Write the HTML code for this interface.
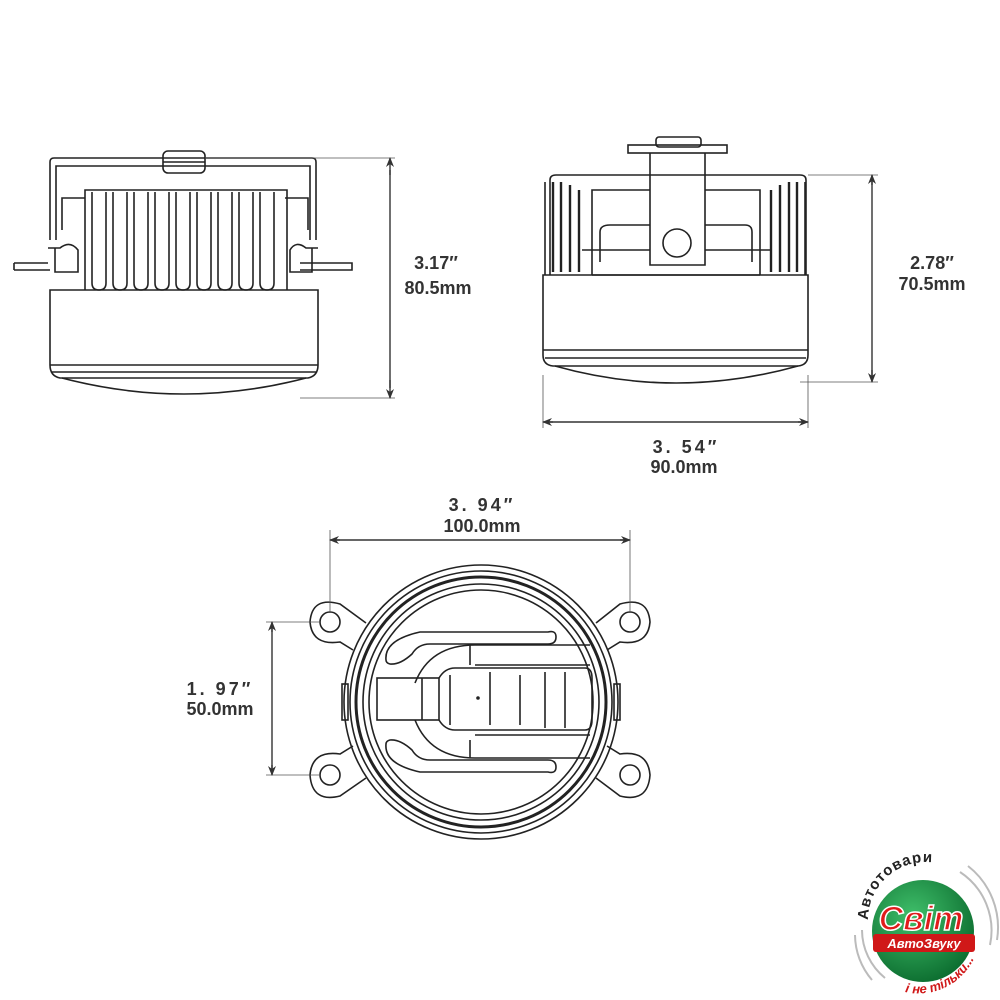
<!DOCTYPE html>
<html><head><meta charset="utf-8"><style>
body{margin:0;background:#fff}
svg{display:block}
text{font-family:"Liberation Sans",sans-serif;font-weight:bold;fill:#333}
</style></head><body>
<svg width="1000" height="1000" viewBox="0 0 1000 1000" xmlns="http://www.w3.org/2000/svg">
<defs>
<marker id="a" markerWidth="10" markerHeight="10" refX="9" refY="5" orient="auto" markerUnits="userSpaceOnUse"><path d="M0,1 L10,5 L0,9 L3,5z" fill="#333"/></marker>
<radialGradient id="g" cx="0.4" cy="0.35" r="0.7"><stop offset="0" stop-color="#3fbf6a"/><stop offset="1" stop-color="#0b6b2e"/></radialGradient>
<path id="tp" d="M868,920 A58,58 0 0 1 968,880"/>
<path id="bp" d="M905,992 A62,62 0 0 0 980,925"/>
</defs>
<g fill="none" stroke="#222" stroke-width="1.6">
<path d="M50,240 V162 Q50,158 54,158 H312 Q316,158 316,162 V240"/>
<path d="M56,240 V166 H310 V240"/>
<rect x="163" y="151" width="42" height="22" rx="5"/>
<line x1="163" y1="162" x2="205" y2="162"/>
<path d="M62,230 V198 H85 M285,198 H308 V230"/>
<path d="M85,290 V190 H287 V290"/>
<g>
<path d="M92,192 V283 Q92,290 99,290 Q106,290 106,283 V192"/>
<path d="M113,192 V283 Q113,290 120,290 Q127,290 127,283 V192"/>
<path d="M134,192 V283 Q134,290 141,290 Q148,290 148,283 V192"/>
<path d="M155,192 V283 Q155,290 162,290 Q169,290 169,283 V192"/>
<path d="M176,192 V283 Q176,290 183,290 Q190,290 190,283 V192"/>
<path d="M197,192 V283 Q197,290 204,290 Q211,290 211,283 V192"/>
<path d="M218,192 V283 Q218,290 225,290 Q232,290 232,283 V192"/>
<path d="M239,192 V283 Q239,290 246,290 Q253,290 253,283 V192"/>
<path d="M260,192 V283 Q260,290 267,290 Q274,290 274,283 V192"/>
</g>
<path d="M14,263 H48 M14,270 H50 M14,263 V270"/>
<path d="M300,263 H352 V270 H300"/>
<path d="M48,248 H60 Q70,240 78,250 V272 H55 V248"/>
<path d="M318,248 H306 Q296,240 290,250 V272 H312 V248"/>
<path d="M50,290 H318 V365 Q318,376 308,378 H60 Q50,376 50,365 Z"/>
<line x1="50" y1="365" x2="318" y2="365"/><line x1="52" y1="372" x2="316" y2="372"/>
<path d="M62,378 Q184,410 306,378"/>
<rect x="628" y="145" width="99" height="8"/>
<rect x="656" y="137" width="45" height="10" rx="3"/>
<path d="M650,153 V265 H705 V153"/>
<circle cx="677" cy="243" r="14"/>
<path d="M550,275 V180 Q550,175 556,175 H800 Q806,175 806,180 V275"/>
<path d="M545,275 V182 M805,275 V182"/>
<g stroke-width="2.4">
<path d="M553,272 V182 M561,272 V182 M570,272 V185 M579,272 V190"/>
<path d="M797,272 V182 M789,272 V182 M780,272 V185 M771,272 V190"/>
</g>
<path d="M592,275 V190 H650 M705,190 H760 V275"/>
<path d="M600,262 V232 Q600,225 610,225 H650 M705,225 H745 Q752,225 752,232 V262"/>
<path d="M582,250 H650 M705,250 H772"/>
<path d="M592,275 H760"/>
<path d="M543,275 H808 V355 Q808,365 798,366 H553 Q543,365 543,355 Z"/>
<line x1="543" y1="350" x2="808" y2="350"/><line x1="545" y1="358" x2="806" y2="358"/>
<path d="M555,366 Q676,400 798,366"/>
<circle cx="481" cy="702" r="137"/>
<circle cx="481" cy="702" r="131"/>
<circle cx="481" cy="702" r="125" stroke-width="3"/>
<circle cx="481" cy="702" r="118"/>
<circle cx="481" cy="702" r="112"/>
<g>
<circle cx="330" cy="622" r="10"/><circle cx="630" cy="622" r="10"/>
<circle cx="330" cy="775" r="10"/><circle cx="630" cy="775" r="10"/>
<path d="M366,623 L340,604 Q312,596 310,622 Q312,646 340,642 L353,650"/>
<path d="M596,623 L620,604 Q648,596 650,622 Q648,646 620,642 L607,650"/>
<path d="M366,778 L340,796 Q312,803 310,775 Q312,750 340,754 L353,746"/>
<path d="M596,778 L620,796 Q648,803 650,775 Q648,750 620,754 L607,746"/>
</g>
<rect x="342" y="684" width="6" height="36"/><rect x="614" y="684" width="6" height="36"/>
<path d="M386,660 Q384,640 420,632 H548 Q556,630 556,637 Q556,644 548,644 H430 Q418,644 412,654 Q400,665 390,664 Q386,663 386,660Z"/>
<path d="M386,744 Q384,764 420,772 H548 Q556,774 556,767 Q556,760 548,760 H430 Q418,760 412,750 Q400,739 390,740 Q386,741 386,744Z"/>
<path d="M415,683 Q430,645 475,645 H590 M415,720 Q430,758 475,758 H590"/>
<path d="M470,645 V665 M470,740 V758"/>
<rect x="377" y="678" width="62" height="42"/>
<line x1="422" y1="678" x2="422" y2="720"/>
<path d="M439,678 Q445,668 455,668 H585 Q592,668 592,678 V720 Q592,730 585,730 H455 Q445,730 439,720"/>
<path d="M450,675 V725 M490,672 V725 M520,675 V725 M545,672 V728 M565,672 V728"/>
<path d="M475,665 H590 M475,735 H590"/>
<circle cx="478" cy="698" r="1" fill="#222"/>
</g>
<g stroke="#555" stroke-width="0.8" fill="none">
<path d="M205,158 H395 M300,398 H395"/>
<path d="M808,175 H878 M800,382 H878"/>
<path d="M543,375 V428 M808,375 V428"/>
<path d="M330,530 V612 M630,530 V612"/>
<path d="M266,622 H320 M266,775 H320"/>
</g>
<g stroke="#333" stroke-width="1.4">
<line x1="390" y1="175" x2="390" y2="158" marker-end="url(#a)"/>
<line x1="390" y1="380" x2="390" y2="398" marker-end="url(#a)"/>
<line x1="390" y1="170" x2="390" y2="388"/>
<line x1="872" y1="185" x2="872" y2="175" marker-end="url(#a)"/>
<line x1="872" y1="370" x2="872" y2="382" marker-end="url(#a)"/>
<line x1="872" y1="180" x2="872" y2="378"/>
<line x1="553" y1="422" x2="543" y2="422" marker-end="url(#a)"/>
<line x1="798" y1="422" x2="808" y2="422" marker-end="url(#a)"/>
<line x1="548" y1="422" x2="803" y2="422"/>
<line x1="340" y1="540" x2="330" y2="540" marker-end="url(#a)"/>
<line x1="620" y1="540" x2="630" y2="540" marker-end="url(#a)"/>
<line x1="335" y1="540" x2="625" y2="540"/>
<line x1="272" y1="632" x2="272" y2="622" marker-end="url(#a)"/>
<line x1="272" y1="765" x2="272" y2="775" marker-end="url(#a)"/>
<line x1="272" y1="627" x2="272" y2="770"/>
</g>
<g font-size="18" text-anchor="middle">
<text x="436" y="269">3.17″</text><text x="438" y="294">80.5mm</text>
<text x="932" y="269">2.78″</text><text x="932" y="290">70.5mm</text>
<text x="686" y="453" letter-spacing="3">3. 54″</text><text x="684" y="473">90.0mm</text>
<text x="482" y="511" letter-spacing="3">3. 94″</text><text x="482" y="532">100.0mm</text>
<text x="220" y="695" letter-spacing="3">1. 97″</text><text x="220" y="715">50.0mm</text>
</g>
<g>
<circle cx="923" cy="931" r="51" fill="url(#g)"/>
<g stroke="#bbb" stroke-width="2" fill="none">
<path d="M960,872 A70,70 0 0 1 990,945"/>
<path d="M968,866 A78,78 0 0 1 997,940"/>
<path d="M862,930 A62,62 0 0 0 885,978"/>
<path d="M855,935 A70,70 0 0 0 872,980"/>
</g>
<rect x="873" y="934" width="102" height="18" rx="3" fill="#d01818"/>
<text x="921" y="930" font-size="34" font-style="italic" text-anchor="middle" style="fill:#e01b1b;stroke:#fff;stroke-width:1.5">Світ</text>
<text x="924" y="948" font-size="13" font-style="italic" text-anchor="middle" style="fill:#fff">АвтоЗвуку</text>
<text font-size="15" style="fill:#222" letter-spacing="1"><textPath href="#tp">Автотовари</textPath></text>
<text font-size="13" font-style="italic" style="fill:#d01818"><textPath href="#bp">і не тільки...</textPath></text>
</g>
</svg>
</body></html>
